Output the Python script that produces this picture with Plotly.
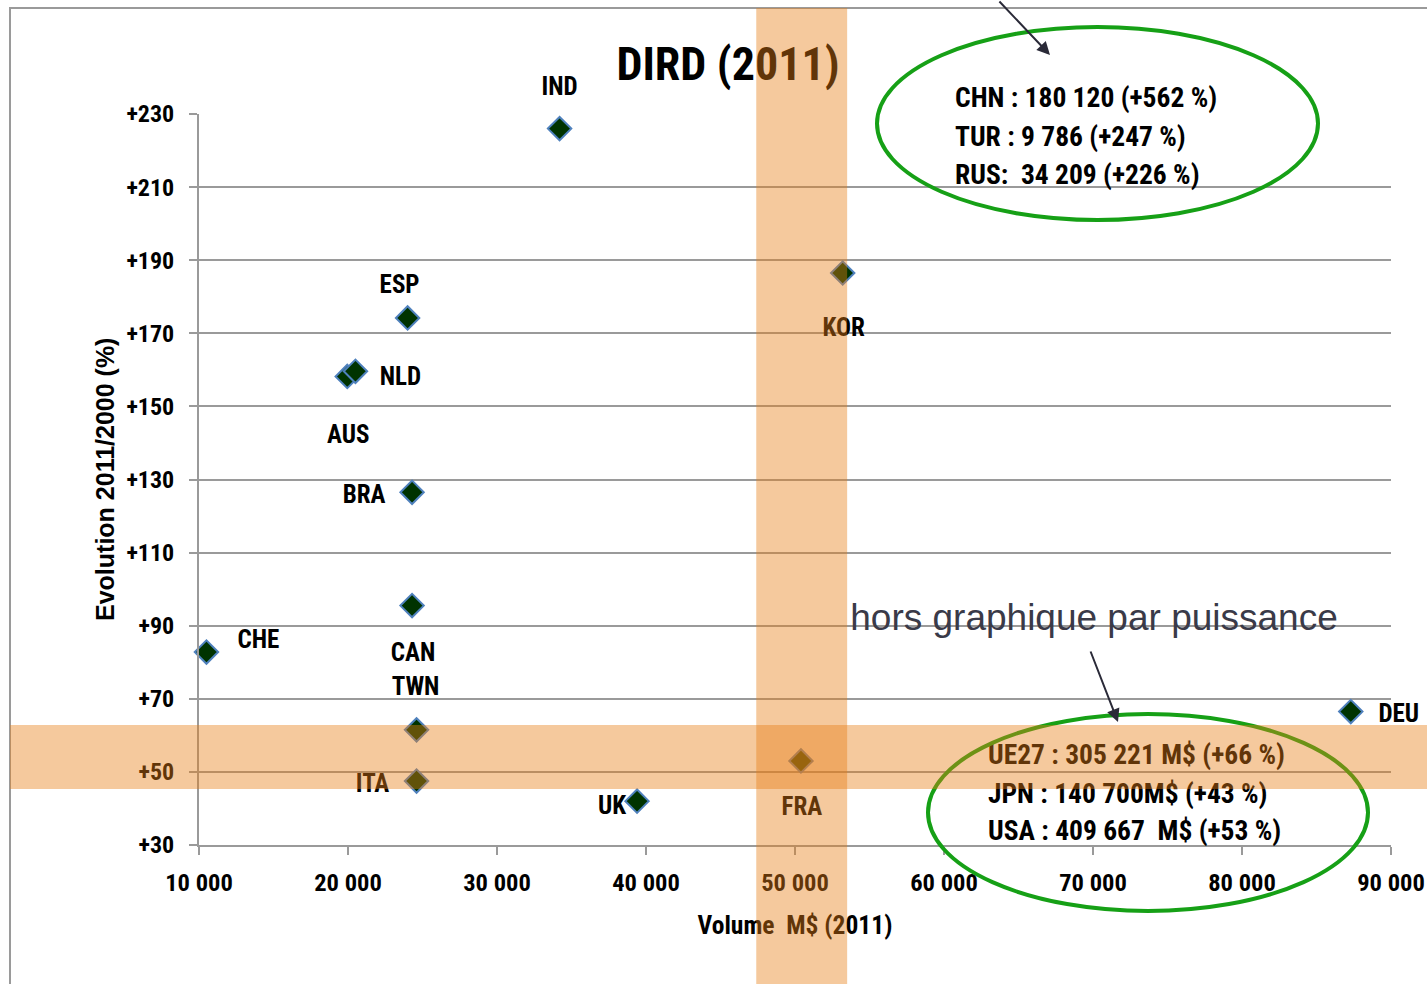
import plotly.graph_objects as go

# ---------------- data ----------------
countries = ["IND", "ESP", "AUS", "NLD", "BRA", "CAN", "CHE", "TWN", "ITA", "UK", "FRA", "KOR", "DEU"]
volume = [34200, 24000, 19950, 20500, 24300, 24300, 10500, 24600, 24600, 39400, 50400, 53200, 87300]
evolution = [226, 174.2, 158.2, 159.6, 126.5, 95.5, 82.8, 61.5, 47.5, 42, 53, 186.5, 66.5]
# label offsets from each point, in screen pixels (dx right, dy down)
label_dx = [0, -8, 1, 45, -48, 1, 52, -1, -44, -25, 1, 1, 48]
label_dy = [-40, -31, 60, 7, 4, 49, -10, -41, 5, 7, 48, 57, 4]

x_ticks = [10000, 20000, 30000, 40000, 50000, 60000, 70000, 80000, 90000]
y_ticks = [30, 50, 70, 90, 110, 130, 150, 170, 190, 210, 230]
y_ticktext = ["+30", "+50", "+70", "+90", "+110", "+130", "+150", "+170", "+190", "+210", "+230"]

top_box = ["CHN : 180 120 (+562 %)", "TUR : 9 786 (+247 %)", "RUS:  34 209 (+226 %)"]
bottom_box = ["UE27 : 305 221 M$ (+66 %)", "JPN : 140 700M$ (+43 %)", "USA : 409 667  M$ (+53 %)"]

title_text = "DIRD (2011)"
x_title = "Volume  M$ (2011)"
y_title = "Evolution 2011/2000 (%)"
note_text = "hors graphique par puissance"

# highlighted zones (orange bands)
band_x = (47400, 53500)
band_y = (45.3, 62.8)

# ---------------- layout constants ----------------
W, H = 1427, 984
ML, MR, MT, MB = 199, 36, 114, 139
PW, PH = W - ML - MR, H - MT - MB
X_MIN, X_MAX = 10000, 90000
Y_MIN, Y_MAX = 30, 230
KX = (X_MAX - X_MIN) / PW
KY = (Y_MAX - Y_MIN) / PH

FONT = "Liberation Sans Narrow, Roboto Condensed, Arial Narrow, Liberation Sans, sans-serif"
FONT_WIDE = "Liberation Sans, Arial, sans-serif"


def px_to_x(px):
    return X_MIN + (px - ML) * KX


def px_to_y(py):
    return Y_MIN + (H - MB - py) * KY


def sp(s):
    return s.replace("  ", "\u00a0\u00a0")


def xp(px):
    return px / W


def yp(py):
    return 1 - py / H


fig = go.Figure()

# points (main axes)
fig.add_trace(go.Scatter(
    x=volume, y=evolution, mode="markers",
    marker=dict(symbol="diamond", size=18, color="#003300",
                line=dict(color="#4F81BD", width=2)),
    hoverinfo="skip", showlegend=False, cliponaxis=False,
))

# point labels (overlay axes with the same scale, extended to the whole figure)
fig.add_trace(go.Scatter(
    x=[v + d * KX for v, d in zip(volume, label_dx)],
    y=[e - d * KY for e, d in zip(evolution, label_dy)],
    xaxis="x2", yaxis="y2",
    mode="text", text=countries, textposition="middle center",
    textfont=dict(family=FONT, size=25, color="black", weight="bold"),
    hoverinfo="skip", showlegend=False,
))


def add_text(xs, ys, texts, pos, font):
    fig.add_trace(go.Scatter(
        x=xs, y=ys, xaxis="x2", yaxis="y2", mode="text", text=texts,
        textposition=pos, textfont=font, hoverinfo="skip", showlegend=False,
    ))


add_text([px_to_x(728)], [px_to_y(68)], [title_text], "middle center",
         dict(family=FONT, size=46, color="black", weight="bold"))
add_text([px_to_x(795)], [px_to_y(928)], [sp(x_title)], "middle center",
         dict(family=FONT, size=25.5, color="black", weight="bold"))
add_text([px_to_x(955)] * 3, [px_to_y(p) for p in (100, 139, 177)], [sp(t) for t in top_box],
         "middle right", dict(family=FONT, size=27.5, color="black", weight="bold"))
add_text([px_to_x(988)] * 3, [px_to_y(p) for p in (757, 796, 833)], [sp(t) for t in bottom_box],
         "middle right", dict(family=FONT, size=27.5, color="black", weight="bold"))
add_text([px_to_x(1094)], [px_to_y(621)], [note_text], "middle center",
         dict(family=FONT_WIDE, size=37, color="#3a3a48"))

GREEN = "#16A016"
BAND = "rgba(232,126,22,0.42)"

shapes = [
    # outer frame
    dict(type="rect", xref="paper", yref="paper", x0=xp(10), x1=xp(1500), y0=yp(8), y1=yp(1100),
         line=dict(color="#9a9a9a", width=2), fillcolor="rgba(0,0,0,0)", layer="below"),
    # ellipses
    dict(type="circle", xref="paper", yref="paper", x0=xp(877), x1=xp(1318), y0=yp(27), y1=yp(220),
         line=dict(color=GREEN, width=4), layer="above"),
    dict(type="circle", xref="paper", yref="paper", x0=xp(928), x1=xp(1368), y0=yp(714), y1=yp(911),
         line=dict(color=GREEN, width=4), layer="above"),
    # bands
    dict(type="rect", xref="x", yref="paper", x0=band_x[0], x1=band_x[1], y0=yp(1100), y1=yp(8),
         line=dict(width=0), fillcolor=BAND, layer="above"),
    dict(type="rect", xref="paper", yref="y", x0=xp(10), x1=xp(1500), y0=band_y[0], y1=band_y[1],
         line=dict(width=0), fillcolor=BAND, layer="above"),
]

annotations = [
    dict(xref="paper", yref="paper", x=xp(105), y=yp(480), xanchor="center", yanchor="middle",
         text="<b>" + y_title + "</b>", showarrow=False,
         textangle=-90, font=dict(family=FONT_WIDE, size=25, color="black")),
    dict(xref="paper", yref="paper", x=xp(1050), y=yp(55), ax=-52, ay=-60, text="",
         showarrow=True, arrowhead=2, arrowsize=1.3, arrowwidth=2, arrowcolor="#2a2a38"),
    dict(xref="paper", yref="paper", x=xp(1118), y=yp(722), ax=-28, ay=-72, text="",
         showarrow=True, arrowhead=2, arrowsize=1.3, arrowwidth=2, arrowcolor="#2a2a38"),
]

fig.update_layout(
    width=W, height=H,
    margin=dict(l=0, r=0, t=0, b=0, pad=0),
    paper_bgcolor="white", plot_bgcolor="rgba(0,0,0,0)",
    separators=", ",
    shapes=shapes, annotations=annotations,
    showlegend=False,
    xaxis=dict(domain=[ML / W, (W - MR) / W], range=[X_MIN, X_MAX], tickvals=x_ticks, tickformat=",d",
               showgrid=False, zeroline=False, showline=True, linecolor="#9a9a9a", linewidth=2,
               ticks="outside", ticklen=8, tickcolor="#9a9a9a", tickwidth=2,
               ticklabelstandoff=7, automargin=False,
               tickfont=dict(family=FONT, size=24.5, color="black", weight="bold")),
    yaxis=dict(domain=[MB / H, (H - MT) / H], range=[Y_MIN, Y_MAX], tickvals=y_ticks, ticktext=y_ticktext,
               showgrid=True, gridcolor="#9a9a9a", gridwidth=2, zeroline=False,
               showline=True, linecolor="#9a9a9a", linewidth=2,
               ticks="outside", ticklen=8, tickcolor="#9a9a9a", tickwidth=2,
               ticklabelstandoff=10, automargin=False,
               tickfont=dict(family=FONT, size=24, color="black", weight="bold")),
    xaxis2=dict(domain=[0, 1], anchor="y2", range=[X_MIN - ML * KX, X_MIN + (W - ML) * KX],
                visible=False, fixedrange=True),
    yaxis2=dict(domain=[0, 1], anchor="x2", range=[Y_MIN - MB * KY, Y_MIN + (H - MB) * KY],
                visible=False, fixedrange=True),
)

fig.write_html("out.html", config={"displayModeBar": False},
               post_script="document.body.style.margin='0px';document.body.style.overflow='hidden';")
